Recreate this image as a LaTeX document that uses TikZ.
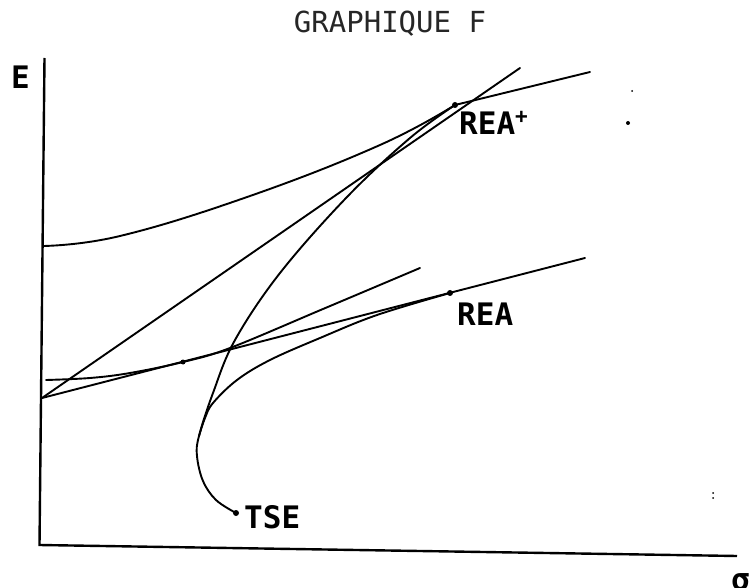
\documentclass[tikz,border=0pt]{standalone}
\usepackage{fontspec}
\newfontfamily\plotfont{DejaVu Sans Mono}
\begin{document}
\begin{tikzpicture}[x=1pt,y=-1pt,
  curve/.style={line width=1.9pt, line cap=round, line join=round},
  axisline/.style={line width=2.4pt},
  lbl/.style={inner sep=0pt, anchor=base west, font=\plotfont\bfseries\fontsize{31}{31}\selectfont},
  ttl/.style={inner sep=0pt, anchor=base, font=\plotfont\fontsize{29}{29}\selectfont, text=black!85},
  dotm/.style={fill, circle, inner sep=0pt, minimum size=6pt},
  speck/.style={fill, circle, inner sep=0pt, minimum size=2pt}]
\useasboundingbox (0,0) rectangle (750,588);
% title
\node[ttl] (title) at (390,33) {GRAPHIQUE F};
% axes
\coordinate (ytop) at (44.5,58);
\coordinate (orig) at (39.5,545);
\coordinate (xend) at (737,556);
\draw[axisline] (ytop) -- (orig) -- (xend);
\node[lbl] (Elab) at (11,89) {E};
\node[lbl] (sig) at (731,590) {σ};
% key points
\coordinate (rf) at (42,398);
\coordinate (rea) at (450,293);
\coordinate (reap) at (455,105);
\coordinate (tse) at (236,513);
\coordinate (split) at (199,436);
% straight lines from rf
\draw[curve] (rf) -- (520,68) coordinate (steepend);
\draw[curve] (rf) -- (585,258) coordinate (cmlend);
% upper curve
\draw[curve] plot[smooth, tension=0.7] coordinates {(43,246) (120,236) (250,196) (380,145) (reap)};
\draw[curve] (reap) -- (590,72) coordinate (upend);
% lower curve
\draw[curve] plot[smooth, tension=0.6] coordinates {(46,380) (90,378) (130,373) (183,362) (230,348) (323,309) (420,268)};
% TSE curve, branch to REA+
\draw[curve] plot[smooth, tension=0.6] coordinates {(tse) (216,500) (203,481) (197,456) (split) (213,393) (235,340) (280,273) (347,197) (410,138) (reap)};
% branch to REA
\draw[curve] plot[smooth, tension=0.6] coordinates {(split) (205,418) (213,403) (237,380) (270,360) (320,338) (377,315) (rea)};
% dots
\node[dotm] (dREA) at (rea) {};
\node[dotm] (dREAp) at (reap) {};
\node[dotm] (dTSE) at (tse) {};
\node[dotm, minimum size=5pt] (dtan) at (183,362) {};
\node[speck, minimum size=4pt] (s1) at (628,123) {};
\node[speck] (s2) at (632,91) {};
\node[speck] (s3) at (713,493) {};
\node[speck] (s4) at (713,498) {};
% labels
\node[lbl] (lREAp) at (459,135) {REA\raisebox{0.36em}{\fontsize{21}{21}\selectfont +}};
\node[lbl] (lREA) at (457,325) {REA};
\node[lbl] (lTSE) at (244,528) {TSE};
\end{tikzpicture}
\end{document}
